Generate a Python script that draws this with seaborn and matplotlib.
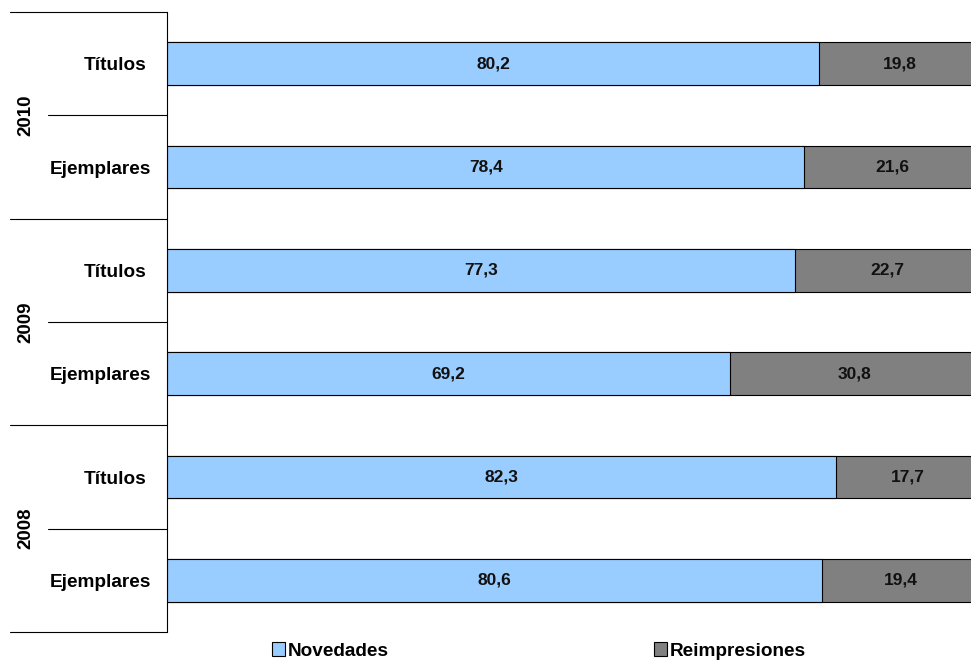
import numpy as np
import pandas as pd
import matplotlib
matplotlib.use("Agg")
import matplotlib.pyplot as plt
from matplotlib.patches import Patch
from matplotlib.transforms import ScaledTranslation
import seaborn as sns

# datos (porcentajes)
anios = ["2010", "2010", "2009", "2009", "2008", "2008"]
categorias = ["Títulos", "Ejemplares", "Títulos", "Ejemplares", "Títulos", "Ejemplares"]
novedades = [80.2, 78.4, 77.3, 69.2, 82.3, 80.6]
reimpresiones = [19.8, 21.6, 22.7, 30.8, 17.7, 19.4]
grupos = ["2010", "2009", "2008"]

azul = "#99CCFF"
gris = "#808080"

sns.set_style("white")
plt.rcParams['font.family'] = ['Liberation Sans', 'DejaVu Sans']
plt.rcParams['font.weight'] = 'bold'
plt.rcParams['text.color'] = 'black'
plt.rcParams['ytick.color'] = 'black'

df = pd.DataFrame({
    "fila": [a + " " + c for a, c in zip(anios, categorias)],
    "novedades": novedades,
    "reimpresiones": reimpresiones,
})
df["total"] = df["novedades"] + df["reimpresiones"]

fig = plt.figure(figsize=(9.71, 6.61), dpi=100)
ax = fig.add_axes([167 / 971, 1 - 632 / 661, 813 / 971, 620 / 661])

sns.barplot(data=df, y="fila", x="total", color=gris, orient="h", width=0.41,
            edgecolor="black", linewidth=0.8, saturation=1, ax=ax)
sns.barplot(data=df, y="fila", x="novedades", color=azul, orient="h", width=0.41,
            edgecolor="black", linewidth=0.8, saturation=1, ax=ax)

ax.set_xlim(0, 100)
ax.set_ylim(5.5, -0.5)
ax.set_xlabel("")
ax.set_ylabel("")
ax.set_xticks([])
ax.set_yticks(range(len(categorias)))
ax.set_yticklabels(categorias, fontsize=13.7, fontweight="bold", color="black")
ax.tick_params(axis="y", length=0, pad=11.5)
for lbl in ax.get_yticklabels():
    if lbl.get_text() == "Títulos":
        lbl.set_transform(lbl.get_transform() + ScaledTranslation(-5 / 100, 0, fig.dpi_scale_trans))
for s in ["top", "right", "bottom"]:
    ax.spines[s].set_visible(False)
ax.spines["left"].set_color("black")
ax.spines["left"].set_linewidth(0.8)

# etiquetas de valores
for i, (n, r) in enumerate(zip(novedades, reimpresiones)):
    ax.text(n / 2, i, f"{n:.1f}".replace(".", ","), ha="center", va="center",
            fontsize=12.5, fontweight="bold", color="#111111")
    ax.text(n + r / 2, i, f"{r:.1f}".replace(".", ","), ha="center", va="center",
            fontsize=12.5, fontweight="bold", color="#111111")

# separadores de grupos y años
tr = ax.get_yaxis_transform()
x_largo = (10 - 167) / 813
x_corto = (48 - 167) / 813
for y in [-0.5, 1.5, 3.5, 5.5]:
    ax.plot([x_largo, 0], [y, y], color="black", lw=0.8, transform=tr, clip_on=False)
for k, g in enumerate(grupos):
    yc = 2 * k + 0.5
    ax.plot([x_corto, 0], [yc, yc], color="black", lw=0.8, transform=tr, clip_on=False)
    ax.text((26 - 167) / 813, yc, g, rotation=90, ha="center", va="center",
            fontsize=13.5, fontweight="bold", color="black", transform=tr)

handles = [Patch(facecolor=azul, edgecolor="black", linewidth=0.8),
           Patch(facecolor=gris, edgecolor="black", linewidth=0.8)]
fig.legend(handles, ["Novedades", "Reimpresiones"], loc="center",
           bbox_to_anchor=(539 / 971, 1 - 651 / 661), ncol=2, frameon=False,
           prop={"size": 13.7, "weight": "bold"}, handlelength=0.7, handleheight=0.7,
           handletextpad=0.15, columnspacing=13.9, borderpad=0, borderaxespad=0)

fig.savefig("out.png", dpi=100)
